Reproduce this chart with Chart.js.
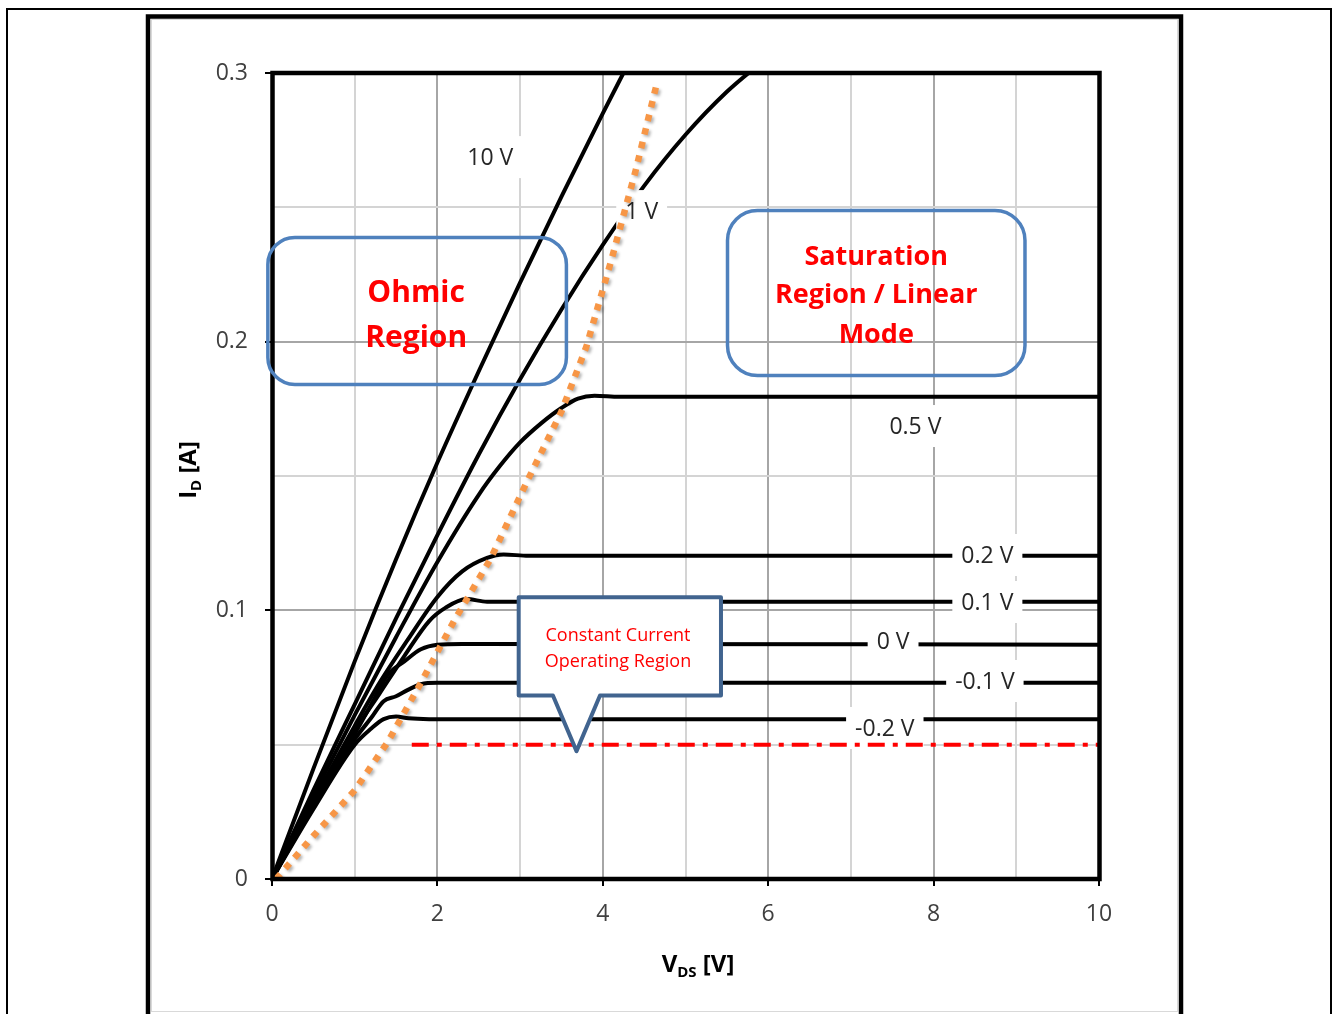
<!DOCTYPE html>
<html>
<head>
<meta charset="utf-8">
<title>MOSFET output characteristics</title>
<script src="https://cdn.jsdelivr.net/npm/chart.js@4.4.1/dist/chart.umd.min.js"></script>
<style>
  html, body { margin: 0; padding: 0; background: #fff; }
  #wrap { position: relative; width: 1333px; height: 1014px; overflow: hidden; }
  canvas { display: block; }
</style>
</head>
<body>
<div id="wrap"><canvas id="ivChart" width="1333" height="1014"></canvas></div>
<script>
// I_D vs V_DS, one curve per gate voltage

const vds10 = [0, 0.5, 1, 1.5, 2, 2.5, 3, 3.5, 4, 4.3];
const id10  = [0, 0.041, 0.081, 0.119, 0.155, 0.189, 0.222, 0.254, 0.285, 0.303];

const vds1 = [0, 0.5, 1, 1.5, 2, 2.5, 3, 3.5, 4, 4.5, 5, 5.5, 6];
const id1  = [0, 0.033, 0.065, 0.097, 0.128, 0.158, 0.186, 0.212, 0.236, 0.258, 0.277, 0.293, 0.306];

const vds05 = [0, 0.5, 1, 1.5, 2, 2.5, 2.75, 3, 3.25, 3.5, 3.7, 3.9, 4.2, 10];
const id05  = [0, 0.031, 0.061, 0.09, 0.118, 0.143, 0.1535, 0.1625, 0.1695, 0.1753, 0.1788, 0.1799, 0.1795, 0.1795];

const vds02 = [0, 0.5, 1, 1.3, 1.64, 2, 2.3, 2.6, 2.8, 3.1, 10];
const id02  = [0, 0.029, 0.057, 0.073, 0.089, 0.105, 0.1145, 0.1195, 0.1208, 0.1203, 0.1203];

const vds01 = [0, 0.5, 1, 1.3, 1.6, 1.9, 2.1, 2.35, 2.6, 10];
const id01  = [0, 0.028, 0.055, 0.069, 0.083, 0.096, 0.101, 0.1042, 0.1032, 0.1032];

const vds0 = [0, 0.5, 1, 1.2, 1.4, 1.6, 1.8, 2.0, 2.3, 10];
const id0  = [0, 0.028, 0.054, 0.065, 0.076, 0.081, 0.0855, 0.0872, 0.0875, 0.0872];

const vdsM01 = [0, 0.5, 1, 1.2, 1.35, 1.5, 1.65, 1.8, 2.0, 10];
const idM01  = [0, 0.027, 0.052, 0.060, 0.0662, 0.068, 0.0705, 0.0725, 0.073, 0.073];

const vdsM02 = [0, 0.5, 1, 1.2, 1.35, 1.5, 1.65, 1.9, 10];
const idM02  = [0, 0.026, 0.05, 0.056, 0.0595, 0.0605, 0.0598, 0.0595, 0.0595];

// pinch-off boundary (orange dots) and minimum current line (red)
const vdsPinch = [0.05, 0.5, 1.0, 1.4, 1.8, 2.2, 2.64, 3.1, 3.5, 3.8, 4.1, 4.4, 4.66];
const idPinch  = [0, 0.016, 0.033, 0.051, 0.073, 0.096, 0.119, 0.149, 0.174, 0.198, 0.230, 0.264, 0.297];
const vdsLimit = [1.69, 10];
const idLimit  = [0.05, 0.05];

// curve labels and where they sit (data units)
const curveLabels = ['10 V', '1 V', '0.5 V', '0.2 V', '0.1 V', '0 V', '-0.1 V', '-0.2 V'];
const labelVds = [2.64, 4.47, 7.78, 8.65, 8.65, 7.51, 8.62, 7.41];
const labelId  = [0.2687, 0.2486, 0.1686, 0.1206, 0.1031, 0.0886, 0.0737, 0.0562];

const FONT = '"Open Sans", "DejaVu Sans", sans-serif';

function pts(xs, ys) {
	return xs.map((x, i) => ({ x: x, y: ys[i] }));
}

function curve(xs, ys) {
	return {
		data: pts(xs, ys),
		showLine: true,
		borderColor: '#000',
		borderWidth: 4,
		pointRadius: 0,
		cubicInterpolationMode: 'monotone',
	};
}

function isMajor(v, step) {
	const k = v / step;
	return Math.abs(k - Math.round(k)) < 1e-6;
}

function roundRect(c, x, y, w, h, r) {
	c.beginPath();
	c.moveTo(x + r, y);
	c.arcTo(x + w, y, x + w, y + h, r);
	c.arcTo(x + w, y + h, x, y + h, r);
	c.arcTo(x, y + h, x, y, r);
	c.arcTo(x, y, x + w, y, r);
	c.closePath();
}

// white-backed labels on the curves
function drawCurveLabels(chart) {
	const c = chart.ctx, xs = chart.scales.x, ys = chart.scales.y;
	c.save();
	c.font = '23px ' + FONT;
	c.textAlign = 'center';
	c.textBaseline = 'middle';
	curveLabels.forEach((t, i) => {
		const px = xs.getPixelForValue(labelVds[i]);
		const py = ys.getPixelForValue(labelId[i]);
		const w = c.measureText(t).width + 18;
		c.fillStyle = '#fff';
		c.fillRect(px - w / 2, py - 21, w, 42);
		c.fillStyle = '#262626';
		c.fillText(t, px, py + 1);
	});
	c.restore();
}

function drawNotes(chart) {
	const c = chart.ctx, xs = chart.scales.x, ys = chart.scales.y;
	const X = v => xs.getPixelForValue(v), Y = v => ys.getPixelForValue(v);
	c.save();

	// Ohmic region box
	c.strokeStyle = '#4f81bd';
	c.lineWidth = 3.5;
	let x0 = X(-0.05), x1 = X(3.56), y0 = Y(0.2388), y1 = Y(0.1841);
	roundRect(c, x0, y0, x1 - x0, y1 - y0, 27);
	c.stroke();
	c.fillStyle = '#ff0000';
	c.textAlign = 'center';
	c.textBaseline = 'alphabetic';
	c.font = 'bold 30px ' + FONT;
	c.fillText('Ohmic', (x0 + x1) / 2 - 1, 302);
	c.fillText('Region', (x0 + x1) / 2 - 1, 347);

	// saturation region box
	x0 = X(5.508); x1 = X(9.105); y0 = Y(0.2488); y1 = Y(0.1874);
	roundRect(c, x0, y0, x1 - x0, y1 - y0, 30);
	c.stroke();
	c.font = 'bold 27px ' + FONT;
	c.fillText('Saturation', (x0 + x1) / 2, 265);
	c.fillText('Region / Linear', (x0 + x1) / 2, 303);
	c.fillText('Mode', (x0 + x1) / 2, 343);

	// callout pointing at the red line
	x0 = X(2.983); x1 = X(5.429); y0 = Y(0.1049); y1 = Y(0.0683);
	const bl = X(3.397), br = X(3.966), tx = X(3.682), ty = Y(0.0476);
	c.beginPath();
	c.moveTo(x0, y0);
	c.lineTo(x1, y0);
	c.lineTo(x1, y1);
	c.lineTo(br, y1);
	c.lineTo(tx, ty);
	c.lineTo(bl, y1);
	c.lineTo(x0, y1);
	c.closePath();
	c.fillStyle = '#fff';
	c.fill();
	c.strokeStyle = '#41648f';
	c.lineWidth = 4;
	c.lineJoin = 'round';
	c.stroke();
	c.fillStyle = '#ff0000';
	c.font = '18px ' + FONT;
	c.fillText('Constant Current', 618, 641);
	c.fillText('Operating Region', 618, 667);

	// axis titles with subscripts
	c.fillStyle = '#000';
	c.textAlign = 'left';
	const big = 'bold 24px ' + FONT, small = 'bold 15px ' + FONT;
	c.font = big;
	const wV = c.measureText('V').width, wRest = c.measureText(' [V]').width;
	c.font = small;
	const wDS = c.measureText('DS').width;
	let sx = 698 - (wV + wDS + wRest) / 2;
	c.font = big; c.fillText('V', sx, 972);
	c.font = small; c.fillText('DS', sx + wV, 977);
	c.font = big; c.fillText(' [V]', sx + wV + wDS, 972);

	c.translate(196, 470);
	c.rotate(-Math.PI / 2);
	c.font = big;
	const wI = c.measureText('I').width, wA = c.measureText(' [A]').width;
	c.font = small;
	const wD = c.measureText('D').width;
	sx = -(wI + wD + wA) / 2;
	c.font = big; c.fillText('I', sx, 0);
	c.font = small; c.fillText('D', sx + wI, 5);
	c.font = big; c.fillText(' [A]', sx + wI + wD, 0);
	c.restore();
}

const decor = {
	id: 'decor',
	beforeDraw(chart) {
		const c = chart.ctx;
		c.save();
		c.fillStyle = '#fff';
		c.fillRect(0, 0, chart.width, chart.height);
		c.strokeStyle = '#000';
		c.lineWidth = 2;
		c.strokeRect(7, 9, 1324, 1040);
		c.strokeStyle = '#d9d9d9';
		c.lineWidth = 1;
		c.strokeRect(151.5, 19.5, 1026, 992);
		c.strokeStyle = '#000';
		c.lineWidth = 4.5;
		c.strokeRect(148, 16.5, 1033, 1040);
		c.restore();
	},
	beforeDatasetDraw(chart, args) {
		const c = chart.ctx;
		if (args.index === 1) drawCurveLabels(chart);
		if (args.index === 0) {
			c.save();
			c.shadowColor = 'rgba(0,0,0,0.3)';
			c.shadowBlur = 3;
			c.shadowOffsetX = 2;
			c.shadowOffsetY = 2;
		}
	},
	afterDatasetDraw(chart, args) {
		if (args.index === 0) chart.ctx.restore();
	},
	afterDatasetsDraw(chart) {
		const c = chart.ctx, a = chart.chartArea;
		c.save();
		c.strokeStyle = '#000';
		c.lineWidth = 4.5;
		c.strokeRect(a.left + 0.5, a.top, a.right - a.left, a.bottom - a.top);
		c.restore();
	},
	afterDraw(chart) {
		drawNotes(chart);
	},
};

const ctx = document.getElementById('ivChart').getContext('2d');
const ivChart = new Chart(ctx, {
	type: 'scatter',
	data: {
		datasets: [
			{
				label: 'pinch-off',
				data: pts(vdsPinch, idPinch),
				showLine: true,
				borderColor: '#f79646',
				borderWidth: 6.5,
				borderDash: [6.5, 7.5],
				borderCapStyle: 'butt',
				pointRadius: 0,
			},
			{
				label: 'limit',
				data: pts(vdsLimit, idLimit),
				showLine: true,
				borderColor: '#ff0000',
				borderWidth: 4,
				borderDash: [17, 8, 5, 8],
				pointRadius: 0,
			},
			curve(vds10, id10),
			curve(vds1, id1),
			curve(vds05, id05),
			curve(vds02, id02),
			curve(vds01, id01),
			curve(vds0, id0),
			curve(vdsM01, idM01),
			curve(vdsM02, idM02),
		],
	},
	options: {
		responsive: false,
		animation: false,
		events: [],
		layout: { padding: { left: 150, top: 73, right: 234, bottom: 35 } },
		plugins: {
			legend: { display: false },
			tooltip: { enabled: false },
		},
		scales: {
			x: {
				type: 'linear',
				min: 0,
				max: 10,
				afterFit: s => { s.height = 100; },
				border: { display: false },
				grid: {
					lineWidth: 2,
					color: g => (g.tick && isMajor(g.tick.value, 2)) ? '#a6a6a6' : '#d4d4d4',
					tickLength: 7,
					tickWidth: 2,
					tickColor: g => (g.tick && isMajor(g.tick.value, 2)) ? '#000' : 'rgba(0,0,0,0)',
				},
				ticks: {
					stepSize: 1,
					autoSkip: false,
					maxRotation: 0,
					padding: 15,
					color: '#404040',
					font: { family: FONT, size: 23 },
					callback: v => isMajor(v, 2) ? String(Math.round(v)) : '',
				},
			},
			y: {
				type: 'linear',
				min: 0,
				max: 0.3,
				afterFit: s => { s.width = 122; },
				border: { display: false },
				grid: {
					lineWidth: 2,
					color: g => (g.tick && isMajor(g.tick.value, 0.1)) ? '#a6a6a6' : '#d4d4d4',
					tickLength: 7,
					tickWidth: 2,
					tickColor: g => (g.tick && isMajor(g.tick.value, 0.1)) ? '#000' : 'rgba(0,0,0,0)',
				},
				ticks: {
					stepSize: 0.05,
					autoSkip: false,
					padding: 17,
					color: '#404040',
					font: { family: FONT, size: 23 },
					callback: v => isMajor(v, 0.1) ? String(Math.round(v * 10) / 10) : '',
				},
			},
		},
	},
	plugins: [decor],
});
</script>
</body>
</html>
